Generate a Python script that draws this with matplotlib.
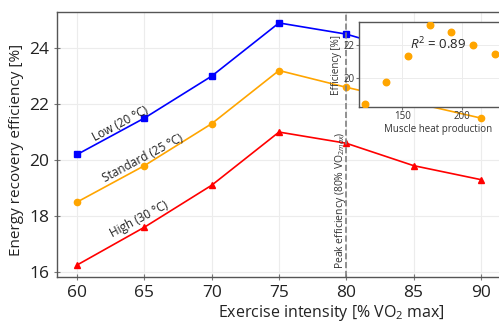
import matplotlib
matplotlib.use("Agg")
import matplotlib.pyplot as plt

plt.rcParams["font.family"] = ["Open Sans", "DejaVu Sans"]
plt.rcParams["mathtext.fontset"] = "custom"
plt.rcParams["mathtext.rm"] = "Open Sans"
plt.rcParams["mathtext.it"] = "Open Sans:italic"

# ── Data ─────────────────────────────────────────────────────────────────────
intensity = [60, 65, 70, 75, 80, 85, 90]
low_20 = [20.2, 21.5, 23.0, 24.9, 24.5, 23.8, 23.2]
standard_25 = [18.5, 19.8, 21.3, 23.2, 22.6, 22.05, 21.5]
high_30 = [16.25, 17.6, 19.1, 21.0, 20.6, 19.8, 19.3]

heat_production = [118.7, 136.7, 155.0, 173.3, 190.5, 208.8, 227.2]
heat_efficiency = [18.48, 19.80, 21.32, 23.2, 22.8, 22.0, 21.48]

x_ticks = [60, 65, 70, 75, 80, 85, 90]
y_ticks = [16, 18, 20, 22, 24]

# ── Main axes ────────────────────────────────────────────────────────────────
fig = plt.figure(figsize=(4.99, 3.25), dpi=100)
ax = fig.add_axes([0.1142, 0.1477, 0.906, 0.8153])

ax.plot(intensity, low_20, color="blue", marker="s", ms=4.5, lw=1.2)
ax.plot(intensity, standard_25, color="orange", marker="o", ms=4.5, lw=1.2)
ax.plot(intensity, high_30, color="red", marker="^", ms=4.5, lw=1.2)

ax.axvline(80, color="gray", ls="--", lw=1.2)
ax.text(79.6, 16.1, "Peak efficiency (80% VO$_{2max}$)", rotation=90,
        ha="center", va="bottom", fontsize=7.5, color="#333333")

ax.text(63.2, 21.29, "Low (20 °C)", rotation=28, ha="center", va="center",
        fontsize=8.5, color="#222222")
ax.text(64.9, 20.07, "Standard (25 °C)", rotation=28, ha="center", va="center",
        fontsize=8.5, color="#222222")
ax.text(64.6, 17.9, "High (30 °C)", rotation=28, ha="center", va="center",
        fontsize=8.5, color="#222222")

ax.set_xlim(58.5, 92.1)
ax.set_ylim(15.82, 25.29)
ax.set_xticks(x_ticks)
ax.set_yticks(y_ticks)
ax.tick_params(labelsize=12.5, direction="inout", length=4, color="#777777",
               labelcolor="#222222")
ax.grid(True, color="#ececec", lw=0.8)
ax.set_axisbelow(True)
for s in ax.spines.values():
    s.set_color("#555555")
    s.set_linewidth(1.0)

ax.set_xlabel("Exercise intensity [% VO$_2$ max]", fontsize=11.5, color="#222222",
              labelpad=2, x=0.608)
ax.set_ylabel("Energy recovery efficiency [%]", fontsize=11, color="#222222",
              labelpad=4, y=0.48)

# ── Inset ────────────────────────────────────────────────────────────────────
ins = fig.add_axes([0.7188, 0.6698, 0.32, 0.2634])
ins.set_facecolor("white")
ins.scatter(heat_production, heat_efficiency, color="orange", s=22, zorder=3)
ins.set_xlim(113.7, 247)
ins.set_ylim(18.26, 23.4)
ins.set_xticks([150, 200])
ins.set_yticks([20, 22])
ins.tick_params(labelsize=7, length=2, color="#777777", labelcolor="#333333", pad=1)
ins.grid(True, color="#ececec", lw=0.7)
ins.set_axisbelow(True)
for s in ins.spines.values():
    s.set_color("#555555")
    s.set_linewidth(1.0)
ins.set_xlabel("Muscle heat production", fontsize=7, color="#333333", labelpad=1)
ins.set_ylabel("Efficiency [%]", fontsize=7, color="#333333", labelpad=1)
ins.text(179.8, 22.06, "$R^2$ = 0.89", ha="center", va="center", fontsize=9.5,
         color="#222222")

fig.savefig("out.png", dpi=100)
